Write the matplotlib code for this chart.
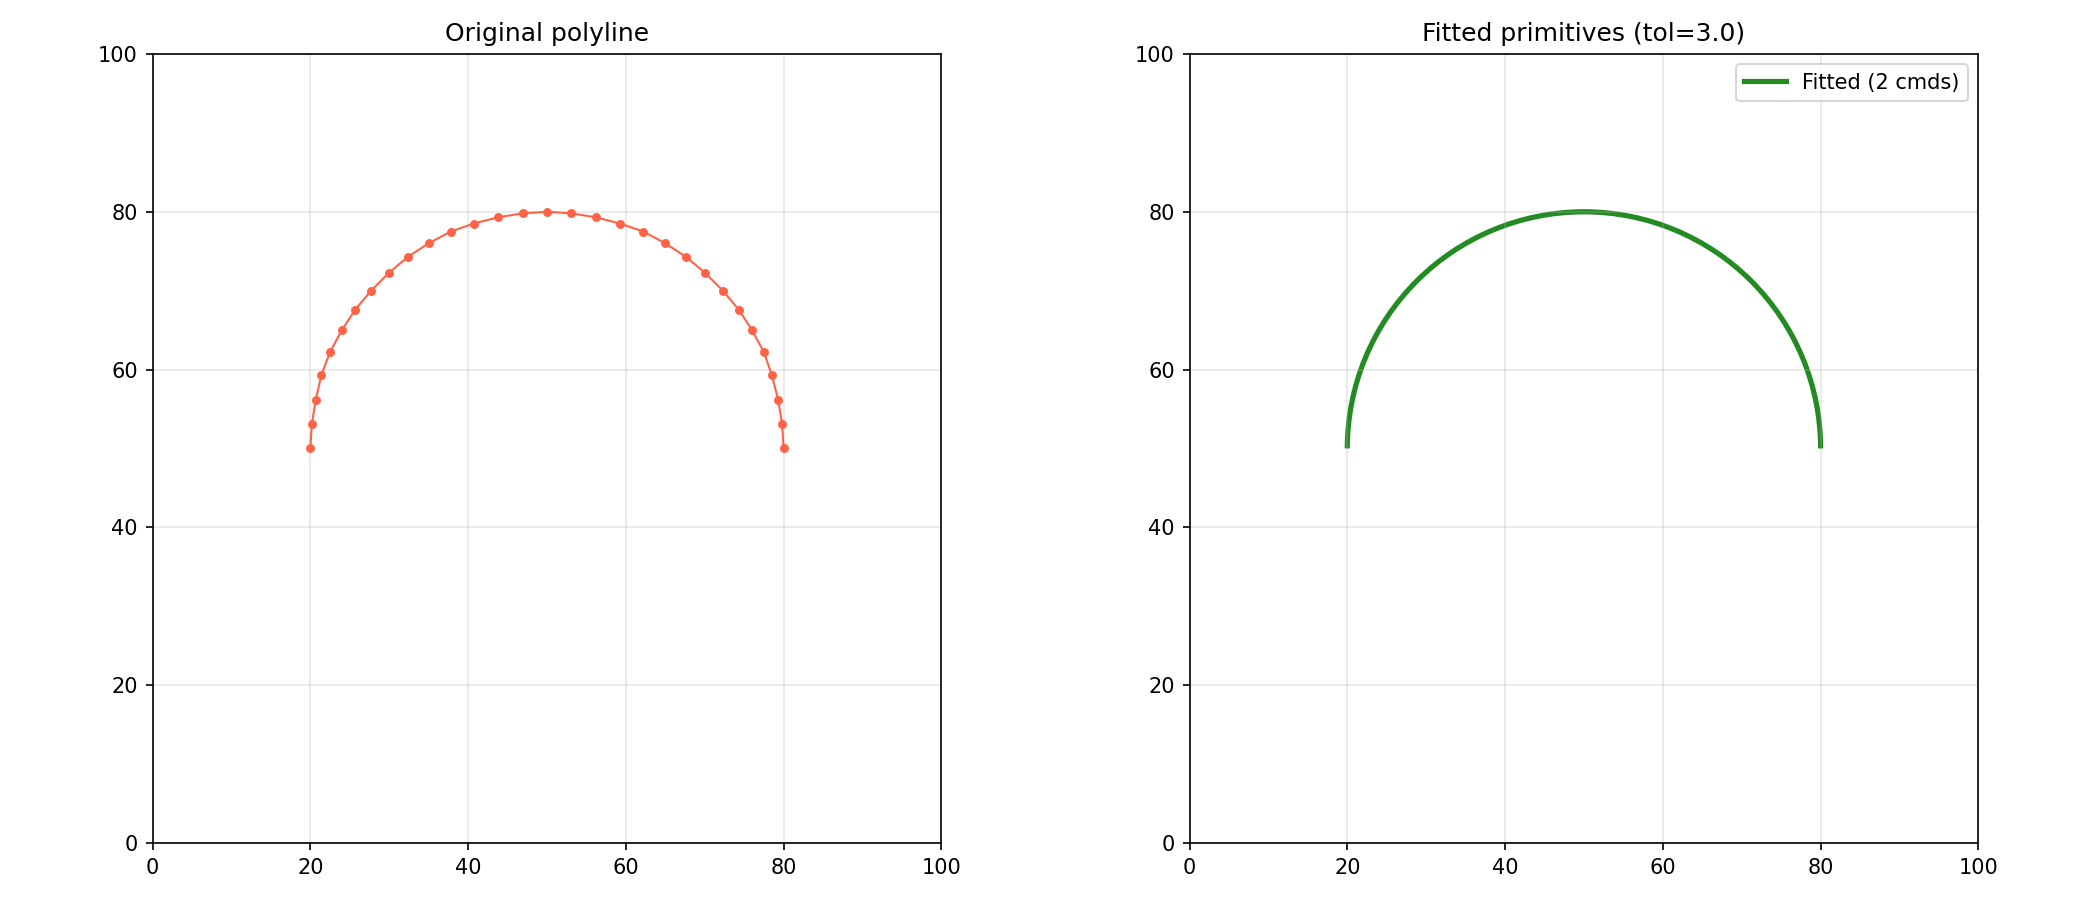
import matplotlib
matplotlib.use("Agg")
import matplotlib.pyplot as plt
from matplotlib.patches import Arc
from matplotlib.lines import Line2D

# Original polyline points
poly_x = [20.0, 20.2, 20.7, 21.4, 22.5, 24.0, 25.7, 27.7, 30.0, 32.4, 35.0, 37.8,
          40.7, 43.8, 46.9, 50.0, 53.1, 56.2, 59.3, 62.2, 65.0, 67.6, 70.0, 72.3,
          74.3, 76.0, 77.5, 78.5, 79.3, 79.8, 80.0]
poly_y = [50.0, 53.1, 56.2, 59.3, 62.2, 65.0, 67.6, 70.0, 72.3, 74.3, 76.0, 77.5,
          78.5, 79.3, 79.8, 80.0, 79.8, 79.3, 78.5, 77.5, 76.0, 74.3, 72.3, 70.0,
          67.6, 65.0, 62.2, 59.3, 56.2, 53.1, 50.0]

# Fitted primitives: two arc commands (center x, center y, radius, start deg, end deg)
arc_cx = [50.0, 50.0]
arc_cy = [50.0, 50.0]
arc_r = [30.0, 30.0]
arc_t1 = [90.0, 0.0]
arc_t2 = [180.0, 90.0]

ticks = [0, 20, 40, 60, 80, 100]
fit_label = "Fitted (2 cmds)"

fig, (ax1, ax2) = plt.subplots(1, 2, figsize=(14, 6), dpi=150)

ax1.plot(poly_x, poly_y, "-o", color="tomato", lw=1, markersize=3.3)
ax1.set_title("Original polyline")

for cx, cy, r, t1, t2 in zip(arc_cx, arc_cy, arc_r, arc_t1, arc_t2):
    ax2.add_patch(Arc((cx, cy), 2 * r, 2 * r, theta1=t1, theta2=t2,
                      color="forestgreen", lw=2.5))
ax2.legend(handles=[Line2D([], [], color="forestgreen", lw=2.5, label=fit_label)],
           loc="upper right")
ax2.set_title("Fitted primitives (tol=3.0)")

for ax in (ax1, ax2):
    ax.set_xlim(0, 100)
    ax.set_ylim(0, 100)
    ax.set_xticks(ticks)
    ax.set_yticks(ticks)
    ax.set_aspect("equal")
    ax.grid(True, alpha=0.3)

fig.tight_layout()
fig.savefig("out.png")
